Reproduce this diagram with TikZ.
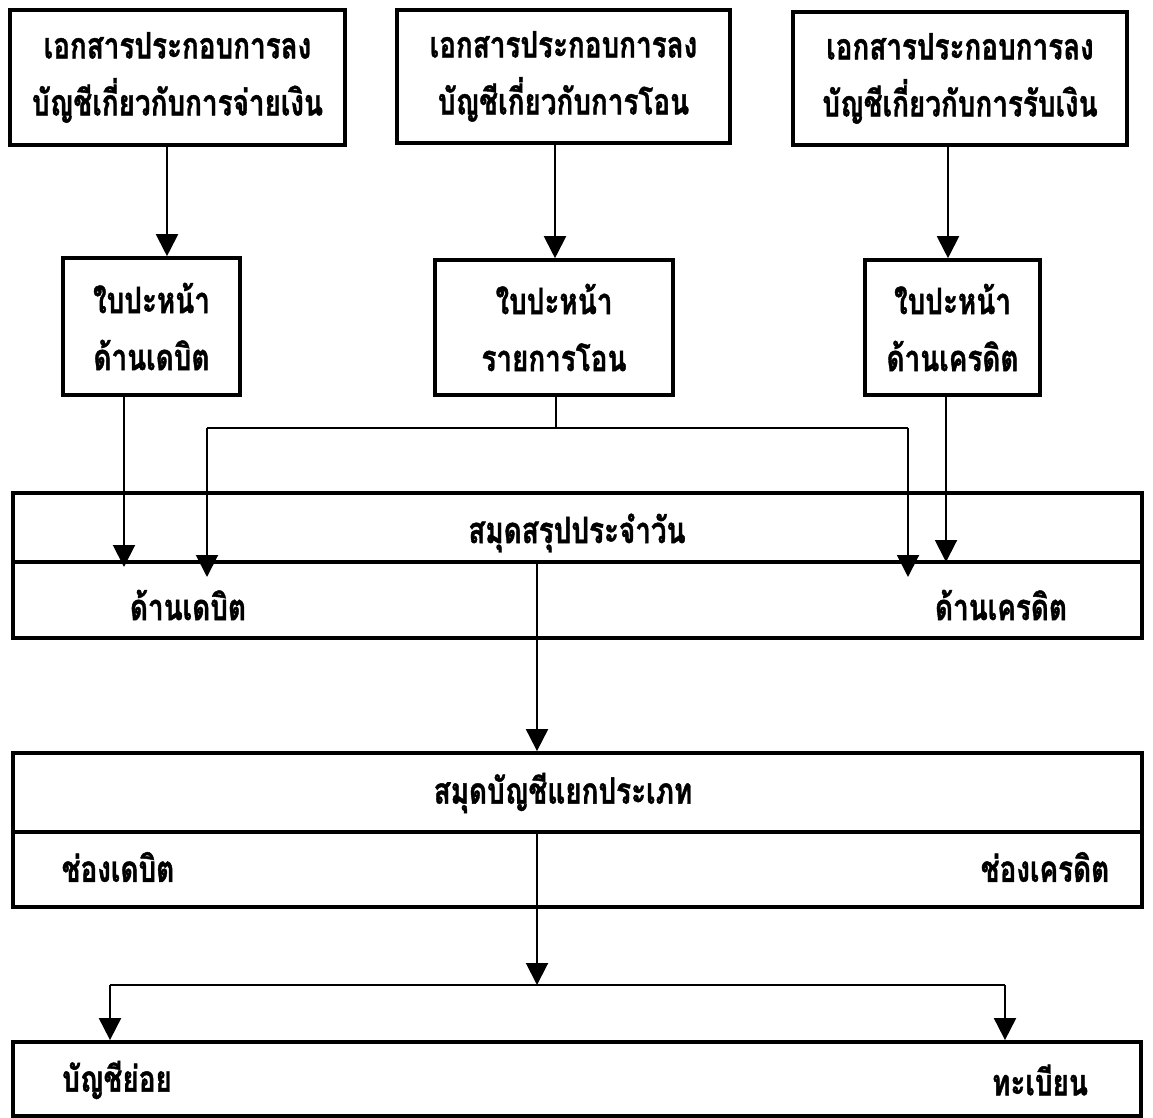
\documentclass[tikz,border=0pt]{standalone}
\usepackage{fontspec}
\setmainfont[Script=Thai,BoldFeatures={FakeBold=1.3}]{Loma}
\usetikzlibrary{arrows.meta}
% narrow, tall setting of a line of Thai text
\newcommand{\tx}[1]{\scalebox{0.96}[1.25]{#1}}
\begin{document}
\begin{tikzpicture}[x=1pt,y=-1pt,
  thai/.style={font=\fontsize{29pt}{57pt}\selectfont\bfseries},
  box/.style={draw,line width=3.6pt,thai,align=center,inner sep=0pt},
  ledger/.style={draw,line width=3.8pt,inner sep=0pt},
  divider/.style={line width=3.2pt},
  label/.style={thai,inner sep=0pt},
  arr/.style={line width=2pt,-{Triangle[length=22pt,width=22pt]}},
  wire/.style={line width=2pt}
]
\useasboundingbox[fill=white] (0,0) rectangle (1153,1118);

% source documents
\node[box,minimum width=335pt,minimum height=135pt] (src1) at (177.5,77.5)
  {\tx{เอกสารประกอบการลง}\\\tx{บัญชีเกี่ยวกับการจ่ายเงิน}};
\node[box,minimum width=333pt,minimum height=133pt] (src2) at (563.5,76.5)
  {\tx{เอกสารประกอบการลง}\\\tx{บัญชีเกี่ยวกับการโอน}};
\node[box,minimum width=334pt,minimum height=133pt] (src3) at (960,78.5)
  {\tx{เอกสารประกอบการลง}\\\tx{บัญชีเกี่ยวกับการรับเงิน}};

% cover sheets
\node[box,minimum width=177pt,minimum height=137pt] (cov1) at (151.5,326.5)
  {\tx{ใบปะหน้า}\\\tx{ด้านเดบิต}};
\node[box,minimum width=238pt,minimum height=135pt] (cov2) at (554,327.5)
  {\tx{ใบปะหน้า}\\\tx{รายการโอน}};
\node[box,minimum width=175pt,minimum height=135pt] (cov3) at (952.5,327.5)
  {\tx{ใบปะหน้า}\\\tx{ด้านเครดิต}};

% daily summary book
\node[ledger,minimum width=1129pt,minimum height=145pt] (day) at (577.5,565.5) {};
\draw[divider] (day.west |- 0,562) -- (day.east |- 0,562);
\node[label] (dayT) at (577,533) {\tx{สมุดสรุปประจำวัน}};
\node[label] (dayD) at (188,605) {\tx{ด้านเดบิต}};
\node[label] (dayC) at (1001,605) {\tx{ด้านเครดิต}};

% general ledger
\node[ledger,minimum width=1129pt,minimum height=154pt] (gl) at (577.5,830) {};
\draw[divider] (gl.west |- 0,832) -- (gl.east |- 0,832);
\node[label] (glT) at (563,793) {\tx{สมุดบัญชีแยกประเภท}};
\node[label] (glD) at (118,867) {\tx{ช่องเดบิต}};
\node[label] (glC) at (1045,867) {\tx{ช่องเครดิต}};

% subsidiary records
\node[ledger,minimum width=1128pt,minimum height=74pt] (sub) at (577,1079) {};
\node[label] (subA) at (117,1080) {\tx{บัญชีย่อย}};
\node[label] (subR) at (1040,1080) {\tx{ทะเบียน}};

% connection points
\coordinate (jT) at (556,428);
\coordinate (jL) at (207,428);
\coordinate (jR) at (908,428);
\coordinate (jB) at (537,985);
\coordinate (bL) at (110,985);
\coordinate (bR) at (1005,985);

% source documents to cover sheets
\draw[arr] (src1.south -| 167,0) -- (cov1.north -| 167,0);
\draw[arr] (src2.south -| 555,0) -- (cov2.north -| 555,0);
\draw[arr] (src3.south -| 948,0) -- (cov3.north -| 948,0);

% cover sheets to daily book
\draw[arr] (cov1.south -| 124,0) -- (124,567);
\draw[arr] (cov3.south -| 946,0) -- (946,562);
\draw[wire] (cov2.south -| jT) -- (jT);
\draw[wire] (jL) -- (jR);
\draw[arr] (jL) -- (207,577);
\draw[arr] (jR) -- (908,577);

% daily book to ledger
\draw[arr] (537,562) -- (gl.north -| 537,0);

% ledger to subsidiary records
\draw[arr] (537,832) -- (jB);
\draw[wire] (bL) -- (bR);
\draw[arr] (bL) -- (sub.north -| bL);
\draw[arr] (bR) -- (sub.north -| bR);
\end{tikzpicture}
\end{document}
